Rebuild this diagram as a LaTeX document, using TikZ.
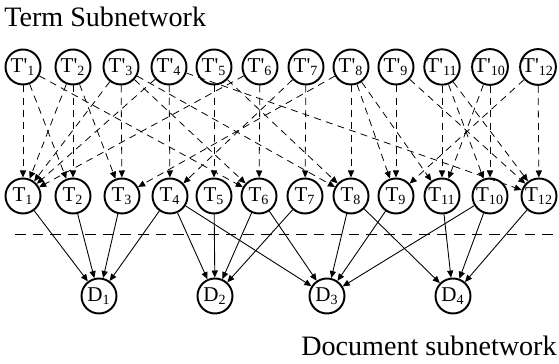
\documentclass[tikz,border=0pt]{standalone}
\usepackage{fontspec}
\setmainfont{Liberation Serif}
\usepackage{tikz}
\usetikzlibrary{arrows.meta}

\begin{document}
\begin{tikzpicture}[x=0.02cm, y=0.02cm,
  every node/.style={font=\fontsize{12}{13}\selectfont},
  term/.style={circle, draw, line width=1.1pt, minimum size=0.7cm, inner sep=0pt},
  lnk/.style={-{Triangle[length=4pt, width=3.5pt]}, dashed,
              dash pattern=on 4pt off 3pt, line width=0.45pt},
  rel/.style={-{Triangle[length=4pt, width=3.5pt]}, line width=0.5pt},
  sepline/.style={dashed, dash pattern=on 6pt off 4pt, line width=0.5pt},
  netlbl/.style={font=\fontsize{16}{18}\selectfont, inner sep=0pt},
]
\useasboundingbox (0,0) rectangle (559,364);

%% ── SUBNETWORK LABELS ─────────────────────────────────────────────────
\node[netlbl, anchor=base west] (termlbl) at (4,337) {Term Subnetwork};
\node[netlbl, anchor=base east] (doclbl)  at (557,8) {Document subnetwork};

%% ── TERM COPIES T' (top row) ──────────────────────────────────────────
\node[term] (tp1)  at ( 23,297) {T\textquotesingle\textsubscript{1}};
\node[term] (tp2)  at ( 73,297) {T\textquotesingle\textsubscript{2}};
\node[term] (tp3)  at (121,297) {T\textquotesingle\textsubscript{3}};
\node[term] (tp4)  at (169,297) {T\textquotesingle\textsubscript{4}};
\node[term] (tp5)  at (214,297) {T\textquotesingle\textsubscript{5}};
\node[term] (tp6)  at (260,297) {T\textquotesingle\textsubscript{6}};
\node[term] (tp7)  at (306,297) {T\textquotesingle\textsubscript{7}};
\node[term] (tp8)  at (351,297) {T\textquotesingle\textsubscript{8}};
\node[term] (tp9)  at (396,297) {T\textquotesingle\textsubscript{9}};
\node[term] (tp11) at (442,297) {T\textquotesingle\textsubscript{11}};
\node[term] (tp10) at (490,297) {T\textquotesingle\textsubscript{10}};
\node[term] (tp12) at (538,297) {T\textquotesingle\textsubscript{12}};

%% ── TERMS T (middle row) ──────────────────────────────────────────────
\node[term] (t1)  at ( 23,168) {T\textsubscript{1}};
\node[term] (t2)  at ( 73,168) {T\textsubscript{2}};
\node[term] (t3)  at (122,168) {T\textsubscript{3}};
\node[term] (t4)  at (170,168) {T\textsubscript{4}};
\node[term] (t5)  at (214,168) {T\textsubscript{5}};
\node[term] (t6)  at (259,168) {T\textsubscript{6}};
\node[term] (t7)  at (305,168) {T\textsubscript{7}};
\node[term] (t8)  at (351,168) {T\textsubscript{8}};
\node[term] (t9)  at (396,168) {T\textsubscript{9}};
\node[term] (t11) at (442,168) {T\textsubscript{11}};
\node[term] (t10) at (490,168) {T\textsubscript{10}};
\node[term] (t12) at (539,168) {T\textsubscript{12}};

%% ── SEPARATOR ─────────────────────────────────────────────────────────
\coordinate (sepL) at (15,130);
\coordinate (sepR) at (559,130);
\draw[sepline] (sepL) -- (sepR);

%% ── DOCUMENTS (bottom row) ────────────────────────────────────────────
\node[term] (d1) at ( 99,68) {D\textsubscript{1}};
\node[term] (d2) at (215,68) {D\textsubscript{2}};
\node[term] (d3) at (327,68) {D\textsubscript{3}};
\node[term] (d4) at (453,68) {D\textsubscript{4}};

%% ═════════════════════════════════════════════════════════════════════
%% ARROWS
%% ═════════════════════════════════════════════════════════════════════

%% T' -> T (own copy)
\draw[lnk] (tp1) -- (t1);   \draw[lnk] (tp2) -- (t2);
\draw[lnk] (tp3) -- (t3);   \draw[lnk] (tp4) -- (t4);
\draw[lnk] (tp5) -- (t5);   \draw[lnk] (tp6) -- (t6);
\draw[lnk] (tp7) -- (t7);   \draw[lnk] (tp8) -- (t8);
\draw[lnk] (tp9) -- (t9);   \draw[lnk] (tp11) -- (t11);
\draw[lnk] (tp10) -- (t10); \draw[lnk] (tp12) -- (t12);

%% T' -> T (related terms)
\draw[lnk] (tp2) -- (t1);   \draw[lnk] (tp3) -- (t1);
\draw[lnk] (tp4) -- (t1);   \draw[lnk] (tp6) -- (t1);
\draw[lnk] (tp1) -- (t2);
\draw[lnk] (tp2) -- (t3);   \draw[lnk] (tp8) -- (t3);
\draw[lnk] (tp7) -- (t4);
\draw[lnk] (tp1) -- (t6);   \draw[lnk] (tp3) -- (t6);
\draw[lnk] (tp3) -- (t8);   \draw[lnk] (tp5) -- (t8);
\draw[lnk] (tp8) -- (t9);   \draw[lnk] (tp12) -- (t9);
\draw[lnk] (tp8) -- (t11);  \draw[lnk] (tp10) -- (t11);
\draw[lnk] (tp11) -- (t10);
\draw[lnk] (tp9) -- (t12);  \draw[lnk] (tp4) -- (t12);
\draw[lnk] (tp11) -- (t12);

%% T -> D (indexing)
\draw[rel] (t1) -- (d1);  \draw[rel] (t2) -- (d1);
\draw[rel] (t3) -- (d1);  \draw[rel] (t4) -- (d1);
\draw[rel] (t4) -- (d2);  \draw[rel] (t5) -- (d2);
\draw[rel] (t6) -- (d2);  \draw[rel] (t7) -- (d2);
\draw[rel] (t4) -- (d3);  \draw[rel] (t6) -- (d3);
\draw[rel] (t8) -- (d3);  \draw[rel] (t9) -- (d3);
\draw[rel] (t10) -- (d3);
\draw[rel] (t8) -- (d4);  \draw[rel] (t11) -- (d4);
\draw[rel] (t10) -- (d4); \draw[rel] (t12) -- (d4);

\end{tikzpicture}
\end{document}
